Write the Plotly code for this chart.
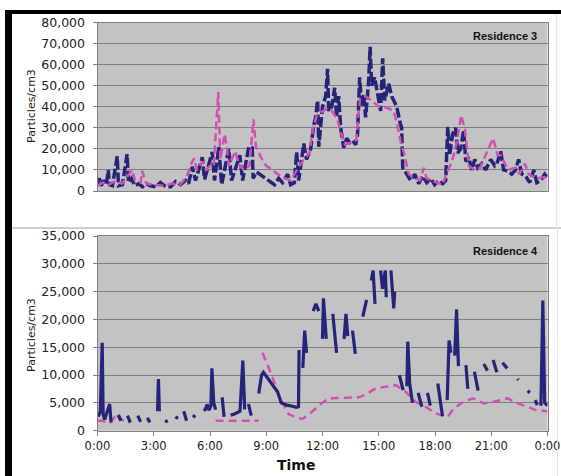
import plotly.graph_objects as go

# ---------------- DATA ----------------
tick_hours = [0, 3, 6, 9, 12, 15, 18, 21, 24]
tick_labels = ["0:00", "3:00", "6:00", "9:00", "12:00", "15:00", "18:00", "21:00", "0:00"]

# Residence 3 - indoor (blue), hours of day / particles per cm3
r3_blue_t = [0.0, 0.1, 0.2, 0.32, 0.48, 0.57, 0.64, 0.8, 1.05, 1.12,
             1.33, 1.58, 1.65, 1.81, 2.0, 2.2, 2.4, 2.6, 2.83, 3.1,
             3.36, 3.63, 3.9, 4.16, 4.43, 4.7, 4.86, 5.05, 5.23, 5.59,
             5.71, 6.12, 6.24, 6.47, 6.62, 7.0, 7.15, 7.59, 7.74, 8.07,
             8.25, 8.3, 8.48, 8.8, 9.12, 9.44, 9.66, 9.87, 10.14, 10.3,
             10.5, 10.62, 10.73, 10.9, 11.0, 11.15, 11.37, 11.53, 11.63, 11.74,
             11.8, 12.0, 12.17, 12.27, 12.33, 12.49, 12.65, 12.75, 12.86, 12.97,
             13.13, 13.29, 13.45, 13.61, 13.77, 13.87, 13.98, 14.09, 14.19, 14.3,
             14.46, 14.54, 14.62, 14.78, 14.94, 15.1, 15.21, 15.32, 15.53, 15.69,
             15.8, 15.96, 16.12, 16.22, 16.28, 16.49, 16.7, 16.92, 17.13, 17.34,
             17.56, 17.77, 17.98, 18.2, 18.41, 18.57, 18.68, 18.78, 18.94, 19.1,
             19.21, 19.37, 19.53, 19.64, 19.8, 19.96, 20.12, 20.28, 20.49, 20.7,
             20.97, 21.18, 21.34, 21.5, 21.66, 21.88, 22.09, 22.3, 22.46, 22.63,
             22.84, 23.05, 23.27, 23.43, 23.64, 23.85, 24.0]
r3_blue_v = [3000, 6000, 2500, 5000, 3000, 10000, 3000, 2500, 16500, 2500,
             3000, 17500, 4000, 6000, 2500, 3500, 2000, 3500, 2500, 2000,
             4000, 2000, 2000, 4500, 3000, 5000, 3500, 11500, 5000, 16000,
             5500, 18500, 5000, 21000, 3000, 20000, 5000, 17000, 5000, 21000,
             20500, 6000, 9000, 7000, 5000, 3000, 6000, 4000, 8000, 3000,
             4000, 18500, 5000, 15000, 22500, 15000, 20000, 31000, 35000, 43000,
             21000, 40000, 45000, 58000, 38000, 40000, 49000, 35000, 45000, 30000,
             20500, 25000, 23000, 24000, 22000, 27000, 54000, 40000, 46000, 35000,
             52000, 68500, 50000, 54000, 45000, 38000, 63000, 43000, 51000, 45000,
             43000, 40000, 33000, 30000, 11000, 8000, 5000, 8000, 3500, 7000,
             4000, 6000, 3000, 5000, 3500, 5000, 30500, 17000, 27000, 30000,
             18000, 20000, 29000, 14000, 16000, 10000, 15000, 11000, 13000, 10000,
             15000, 12000, 14000, 19000, 10000, 9500, 8000, 10000, 15000, 8000,
             7000, 4000, 10000, 4000, 5000, 8000, 6500]

# Residence 3 - outdoor (pink)
r3_pink_t = [0.0, 0.3, 0.6, 1.0, 1.3, 1.6, 1.85, 2.0, 2.3, 2.38,
             2.6, 3.0, 3.5, 4.0, 4.4, 4.7, 4.9, 5.0, 5.15, 5.3,
             5.6, 5.8, 6.0, 6.2, 6.44, 6.55, 6.78, 6.9, 7.0, 7.36,
             7.5, 7.8, 8.1, 8.32, 8.45, 8.86, 9.0, 9.34, 9.6, 10.0,
             10.3, 10.5, 10.8, 11.0, 11.3, 11.5, 11.7, 12.0, 12.2, 12.5,
             12.8, 12.97, 13.2, 13.5, 13.8, 14.0, 14.3, 14.6, 15.0, 15.3,
             15.6, 15.8, 16.0, 16.2, 16.35, 16.6, 16.9, 17.2, 17.4, 17.55,
             17.8, 18.1, 18.4, 18.6, 18.8, 19.0, 19.2, 19.4, 19.6, 19.8,
             20.1, 20.4, 20.8, 21.1, 21.34, 21.5, 21.9, 22.3, 22.5, 22.8,
             23.0, 23.4, 23.8, 24.0]
r3_pink_v = [2500, 4000, 3000, 5000, 3500, 7000, 10000, 5000, 4000, 9500,
             3500, 3000, 2500, 3500, 3000, 6000, 10000, 13000, 15500, 10000,
             14000, 10000, 12000, 12000, 47000, 15000, 27000, 21000, 12000, 19000,
             13000, 10000, 12000, 34000, 21000, 13500, 12000, 10000, 8000, 6000,
             5000, 8000, 12000, 15000, 18000, 30000, 36000, 38000, 39000, 38000,
             34000, 28000, 22000, 23000, 24000, 44000, 45000, 43000, 40000, 40000,
             39000, 38000, 31000, 22000, 18000, 8000, 6000, 5000, 11000, 6000,
             5000, 4000, 3000, 8000, 12000, 17000, 25000, 36000, 29000, 12000,
             10000, 11000, 19000, 25000, 17000, 17000, 10000, 11000, 8000, 13000,
             8000, 6000, 6500, 6500]

# Residence 4 - indoor (blue); None marks gaps in the record
r4_blue_t = [0.05, 0.15, 0.25, 0.3, 0.38, 0.65, 0.72, None,
             1.1, 1.25, None, 1.6, 1.75, None, 2.15, 2.3, None, 2.65, 2.8, None,
             3.2, 3.25, 3.3, None, 3.6, 3.75, None, 4.15, 4.3, None,
             4.6, 4.75, None, 5.1, 5.2, None,
             5.7, 5.85, 5.95, 6.05, 6.1, 6.2, 6.3, None, 6.65, 6.75, None,
             7.1, 7.3, 7.6, 7.75, 7.85, None, 8.05, 8.2, None,
             8.6, 8.75, 8.85, 9.05, 9.2, 9.6, 9.8, 10.1, 10.4, 10.6, 10.72, 10.75, None,
             10.95, 11.05, 11.15, None, 11.5, 11.65, 11.8, None,
             12.0, 12.05, 12.2, None, 12.55, 12.75, None,
             13.15, 13.25, 13.35, None, 13.6, 13.75, None, 14.15, 14.35, None,
             14.6, 14.7, 14.8, None, 15.1, 15.2, 15.35, 15.4, None,
             15.65, 15.8, 15.85, None, 16.1, 16.3, None,
             16.5, 16.55, 16.65, 16.8, None, 17.1, 17.3, None, 17.6, 17.75, None,
             18.15, 18.4, None, 18.65, 18.75, 18.85, None, 19.05, 19.15, 19.25, None,
             19.65, 19.75, None, 20.1, 20.3, None, 20.6, 20.8, None,
             21.1, 21.3, None, 21.6, 21.85, None, 22.4, 22.45, None,
             22.95, 23.05, None, 23.35, 23.45, None, 23.65, 23.75, 23.85, 24.0]
r4_blue_v = [2500, 3500, 15800, 3000, 2000, 4800, 1500, None,
             2800, 1800, None, 2700, 1500, None, 2700, 1600, None, 2300, 1500, None,
             3500, 9300, 3500, None, 1600, 1800, None, 2500, 2200, None,
             3500, 1800, None, 2400, 2800, None,
             3500, 4700, 3700, 4500, 11200, 5000, 3800, None, 6000, 2500, None,
             2800, 3000, 3500, 12600, 3800, None, 4800, 2700, None,
             6700, 10000, 10500, 9600, 8700, 7000, 5000, 4600, 4400, 4200, 4300, 14500, None,
             11300, 18000, 14000, None, 21500, 22800, 21500, None,
             16500, 23800, 16500, None, 21000, 14000, None,
             16500, 21000, 17000, None, 18000, 13800, None, 20500, 23500, None,
             27000, 28800, 22800, None, 28800, 25500, 28800, 24000, None,
             28800, 22000, 25000, None, 10000, 7300, None,
             8000, 16000, 8500, 5000, None, 6800, 4300, None, 6800, 4500, None,
             8500, 2600, None, 5500, 16200, 14000, None, 13500, 21800, 11600, None,
             11800, 7500, None, 10600, 7200, None, 12000, 10800, None,
             12700, 10500, None, 12200, 11200, None, 9300, 9100, None,
             7200, 6800, None, 5500, 4600, None, 4500, 23400, 5000, 4500]

# Residence 4 - outdoor (pink)
r4_pink_t = [0.0, 0.27, 0.48, 0.69, 0.9, 1.12, 1.28, 1.55, 1.76, None,
             6.3, 8.6, None,
             8.8, 9.23, 9.66, 10.19, 10.57, 10.94, 11.37, 11.9, 12.33, 13.4,
             13.93, 14.3, 14.83, 15.37, 15.9, 16.43, 16.97, 17.5, 18.04, 18.68,
             19.0, 19.53, 20.01, 20.6, 21.13, 21.88, 22.41, 22.95, 23.37, 24.0]
r4_pink_v = [1800, 1800, 1400, 1500, 2400, 3000, 2000, 1600, 1500, None,
             1800, 1800, None,
             14000, 10500, 6500, 3000, 2400, 2100, 3200, 4800, 5800, 6000,
             6000, 6500, 7600, 7900, 8200, 7000, 5200, 4300, 3100, 2500,
             4000, 5200, 5800, 4900, 5200, 5800, 4900, 4300, 3700, 3500]

# ---------------- STYLE ----------------
BLUE = "#24247a"
PINK = "#d24fb4"
GRID = "#7f7f7f"
PLOT_BG = "#c3c3c3"
TICK_FONT = dict(family="DejaVu Sans", size=12.5, color="#222222")

W, H = 561, 476
def px(x):
    return x / W
def py(y):
    return 1 - y / H

fig = go.Figure()
fig.add_trace(go.Scatter(x=r3_blue_t, y=r3_blue_v, mode="lines", xaxis="x", yaxis="y",
                         line=dict(color=BLUE, width=3.5, dash="10px,3px")))
fig.add_trace(go.Scatter(x=r3_pink_t, y=r3_pink_v, mode="lines", xaxis="x", yaxis="y",
                         line=dict(color=PINK, width=2.5, dash="8px,4px")))
fig.add_trace(go.Scatter(x=r4_pink_t, y=r4_pink_v, mode="lines", xaxis="x2", yaxis="y2",
                         line=dict(color=PINK, width=2.5, dash="8px,5px")))
fig.add_trace(go.Scatter(x=r4_blue_t, y=r4_blue_v, mode="lines", xaxis="x2", yaxis="y2",
                         line=dict(color=BLUE, width=3.2)))

xdom = [px(97.5), px(547.5)]
common_x = dict(range=[0, 24], tickvals=tick_hours, showgrid=False, zeroline=False,
                showline=True, linecolor=GRID, linewidth=1, mirror=True, automargin=False)
common_y = dict(tickformat=",", showgrid=True, gridcolor=GRID, gridwidth=1, zeroline=False,
                showline=True, linecolor=GRID, linewidth=1, mirror=True, automargin=False,
                ticks="outside", ticklen=4, tickcolor=GRID, tickfont=TICK_FONT,
                ticklabelstandoff=5)

fig.update_layout(
    template="none",
    width=W, height=H, margin=dict(l=0, r=0, t=0, b=0, pad=0, autoexpand=False),
    paper_bgcolor="white", plot_bgcolor=PLOT_BG, showlegend=False,
    xaxis=dict(domain=xdom, anchor="y", showticklabels=False, ticks="", **common_x),
    yaxis=dict(domain=[py(191), py(22.5)], anchor="x", range=[0, 80000], dtick=10000, **common_y),
    xaxis2=dict(domain=xdom, anchor="y2", ticktext=tick_labels, ticks="outside", ticklen=4,
                tickcolor=GRID, tickfont=dict(family="DejaVu Sans", size=11.5, color="#222222"),
                **common_x),
    yaxis2=dict(domain=[py(430.7), py(236)], anchor="x2", range=[0, 35000], dtick=5000, **common_y),
)

def note(x, y, text, font, angle=0):
    fig.add_annotation(x=px(x), y=py(y), xref="paper", yref="paper", text=text,
                       textangle=angle, showarrow=False, font=font,
                       xanchor="center", yanchor="middle")

ann_font = dict(family="DejaVu Sans", size=11, color="#222222")
note(31, 106, "Particles/cm3", ann_font, -90)
note(31, 335, "Particles/cm3", ann_font, -90)
res_font = dict(family="Liberation Sans", size=11, color="#111111", weight="bold")
note(504.5, 36, "Residence 3", res_font)
note(505, 251, "Residence 4", res_font)
note(296, 465, "Time", dict(family="DejaVu Sans", size=14, color="#111111", weight="bold"))

# scanned-page frame
shapes = [
    dict(type="rect", xref="paper", yref="paper", x0=px(5), x1=px(561), y0=py(14), y1=py(10),
         fillcolor="black", line=dict(width=0)),
    dict(type="rect", xref="paper", yref="paper", x0=px(5), x1=px(12), y0=py(476), y1=py(10),
         fillcolor="black", line=dict(width=0)),
    dict(type="line", xref="paper", yref="paper", x0=px(12), x1=px(561), y0=py(228), y1=py(228),
         line=dict(color="#bdbdbd", width=1.5)),
    dict(type="line", xref="paper", yref="paper", x0=px(557.5), x1=px(557.5), y0=py(228), y1=py(476),
         line=dict(color="#e2e2e2", width=1)),
    dict(type="line", xref="paper", yref="paper", x0=px(556.5), x1=px(556.5), y0=py(14), y1=py(228),
         line=dict(color="#e6e6e6", width=1)),
]
fig.update_layout(shapes=shapes)

fig.write_html("out.html", config={"displayModeBar": False},
               post_script="document.body.style.margin='0';document.body.style.overflow='hidden';")
